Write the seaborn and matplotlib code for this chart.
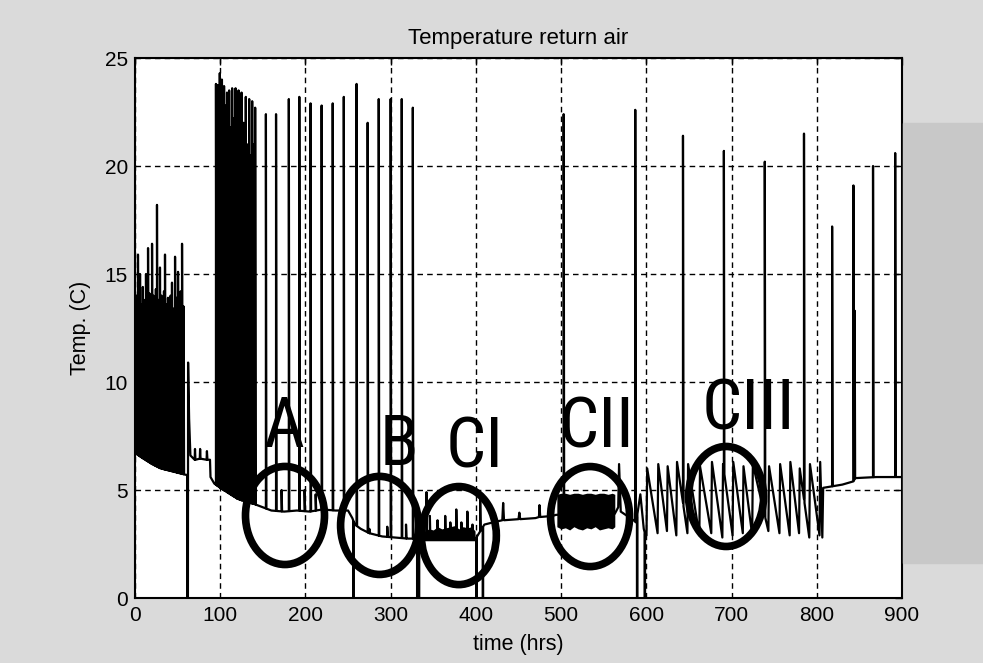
import numpy as np
import pandas as pd
import seaborn as sns
import matplotlib.pyplot as plt
from matplotlib.patches import Ellipse, Rectangle

# ---- slow return-air trace (hrs, deg C) ----
base_t = [0.0, 0.4, 10, 20, 30, 40, 50, 60, 61.2, 61.3, 62.1, 62.3, 63.5, 65,
          70.0, 70.4, 70.9, 76.0, 76.4, 76.9, 84.0, 84.4, 85.0, 88.0, 88.6, 93,
          100, 110, 120, 130, 140, 150, 160, 175, 190, 205, 220, 235, 250, 255,
          258, 265, 275, 290, 305, 320, 329, 335, 399, 410, 420, 431, 432, 433,
          450, 451, 452, 470, 474, 474.6, 475.5, 490, 494, 563, 567, 568, 570,
          585, 588, 593, 597, 599]
base_v = [13.8, 6.7, 6.45, 6.2, 6.0, 5.9, 5.8, 5.7, 5.7, 0.0, 0.0, 10.9, 8.3, 6.6,
          6.4, 6.9, 6.4, 6.45, 6.9, 6.45, 6.4, 6.8, 6.4, 6.4, 5.6, 5.3,
          5.1, 4.85, 4.6, 4.45, 4.35, 4.2, 4.05, 4.0, 4.05, 4.0, 4.1, 4.05, 4.05, 3.7,
          3.4, 3.2, 3.0, 2.85, 2.8, 2.75, 2.75, 2.7, 2.7, 3.4, 3.5, 3.6, 4.4, 3.6,
          3.65, 3.95, 3.65, 3.7, 3.75, 4.3, 3.75, 3.8, 3.85, 3.9, 4.2, 6.2, 4.0,
          3.6, 3.5, 4.8, 3.2, 2.9]

# defrost-cycle sawtooth (600-807 hrs): troughs just before each peak
saw_peak_t = [601, 614, 625, 636, 649, 663, 677, 690, 702, 714, 725, 744, 757,
              769, 780, 792, 804]
saw_peak_v = [6.0, 6.2, 6.1, 6.3, 6.2, 6.1, 6.3, 6.2, 6.3, 6.1, 6.2, 6.1, 6.2,
              6.3, 6.0, 6.2, 6.3]
saw_trough_v = [2.9, 3.0, 3.1, 2.9, 3.0, 2.9, 3.0, 2.8, 2.9, 3.0, 2.9, 3.1, 3.0,
                2.9, 3.0, 2.8, 2.9]

# trace after the last cycle
tail_t = [806.5, 807.5, 830, 843, 845, 870, 900]
tail_v = [2.8, 5.1, 5.25, 5.4, 5.55, 5.6, 5.6]

# dense start-up bursts
burst1_t = [1.5, 3.5, 5.0, 5.9, 7.5, 9.2, 11.0, 12.9, 14.2, 15.3, 17.0, 18.5,
            20.0, 21.5, 23.0, 24.5, 25.8, 27.5, 29.3, 31.0, 32.5, 34.0, 35.2,
            37.0, 38.7, 40.2, 41.8, 43.4, 45.0, 47.0, 48.7, 50.5, 52.0, 53.6,
            55.2, 57.0]
burst1_v = [14.0, 15.9, 14.2, 15.0, 13.6, 14.4, 13.8, 15.0, 13.9, 16.2, 14.1,
            13.5, 16.4, 14.0, 13.7, 14.3, 18.2, 13.8, 15.3, 14.0, 13.5, 14.2,
            15.9, 13.6, 13.9, 13.3, 14.0, 14.6, 13.4, 15.8, 13.9, 15.1, 13.6,
            14.2, 16.4, 13.5]
burst2_t = [95, 96, 97, 98.3, 99.5, 100.8, 102, 103.2, 104.5, 106, 108, 109,
            110.5, 112, 114, 116, 118, 119.8, 121.5, 123, 125, 127.5, 130, 132,
            134, 136, 137.5, 139.3, 141]
burst2_v = [23.8, 22.5, 23.75, 21.8, 24.3, 22.0, 24.0, 21.0, 23.7, 22.8, 23.4,
            20.5, 23.5, 21.8, 23.6, 22.2, 23.6, 20.8, 23.5, 21.5, 23.4, 22.0,
            23.2, 21.0, 23.1, 20.5, 23.0, 21.0, 22.7]

# isolated spikes
spike_t = [153.6, 165.5, 172, 180.5, 192.8, 199, 206, 212, 219, 232, 245, 260,
           273, 275, 286, 296, 300, 313, 318, 326, 342, 346, 355, 364, 370, 377,
           383, 390, 396, 405, 503, 587, 643, 691, 739, 785, 818, 843, 844.5,
           866, 892]
spike_v = [22.4, 22.4, 5.0, 23.1, 23.2, 5.0, 22.9, 4.8, 22.8, 22.9, 23.2, 23.8,
           22.0, 3.2, 23.1, 3.3, 23.1, 23.1, 3.4, 22.7, 4.9, 3.8, 3.6, 3.8, 3.5,
           4.1, 3.5, 4.0, 3.4, 4.7, 22.4, 22.6, 21.4, 20.7, 20.2, 21.5, 17.2,
           19.1, 13.3, 20.0, 20.6]

# power-off drops to zero
zero_t = [256, 331, 333, 400.5, 408, 589, 598]

# dense oscillation bands
ci_t = [336, 340, 345, 350, 355, 360, 365, 370, 375, 380, 385, 390, 395, 399]
ci_top = [3.0, 3.1, 3.2, 3.15, 3.3, 3.2, 3.25, 3.3, 3.35, 3.2, 3.3, 3.25, 3.3, 3.1]
ci_bot = 2.65
cii_t = [495, 500, 505, 510, 515, 520, 525, 530, 535, 540, 545, 550, 555, 560, 563]
cii_top = [4.8, 4.85, 4.85, 4.8, 4.85, 4.85, 4.8, 4.85, 4.85, 4.8, 4.85, 4.85, 4.8, 4.85, 4.8]
cii_bot = [3.3, 3.2, 3.25, 3.15, 3.3, 3.2, 3.15, 3.25, 3.2, 3.3, 3.15, 3.2, 3.25, 3.2, 3.3]

# marked operating periods
zones = ["A", "B", "CI", "CII", "CIII"]
zone_x = [176, 287, 380, 534, 693.6]
zone_y = [3.82, 3.36, 2.89, 3.77, 4.70]
zone_w = [92.7, 91.5, 88, 92.7, 88]
zone_h = [4.54, 4.54, 4.54, 4.63, 4.63]
label_x = [175, 310, 399, 542, 719.5]
label_y = [6.99, 6.16, 6.06, 6.99, 7.78]

# ---- assemble the plotted trace ----
saw_t, saw_v = [], []
for tp, vp, vt in zip(saw_peak_t, saw_peak_v, saw_trough_v):
    saw_t += [tp - 0.8, tp]
    saw_v += [vt, vp]
slow_t = np.array(base_t + saw_t + tail_t, dtype=float)
slow_v = np.array(base_v + saw_v + tail_v, dtype=float)
o = np.argsort(slow_t, kind="mergesort")
slow_t, slow_v = slow_t[o], slow_v[o]


def foot(t):
    return float(np.interp(t, slow_t, slow_v))


pts = list(zip(slow_t, slow_v))
for t, v in zip(burst1_t + burst2_t + spike_t, burst1_v + burst2_v + spike_v):
    pts += [(t - 0.02, foot(t - 0.02)), (t, v), (t + 0.6, foot(t + 0.6))]
for t in zero_t:
    pts += [(t - 0.02, foot(t - 0.02)), (t, 0.0), (t + 0.5, 0.0),
            (t + 0.52, foot(t + 0.52))]
df = pd.DataFrame(pts, columns=["time", "temp"]).sort_values("time", kind="mergesort")

# ---- figure ----
sns.set_style("white")
plt.rcParams["font.family"] = ["Liberation Sans", "DejaVu Sans"]
for key in ("text.color", "axes.labelcolor", "xtick.color", "ytick.color"):
    plt.rcParams[key] = "black"

fig = plt.figure(figsize=(9.83, 6.63), dpi=100, facecolor="#dadada")
# darker scanned margin on the right-hand side
fig.patches.append(Rectangle((903 / 983, 100 / 663), 80 / 983, 440 / 663,
                             transform=fig.transFigure, color="#c8c8c8", zorder=0))
ax = fig.add_axes([135 / 983, 65 / 663, 767 / 983, 540 / 663])
ax.set_facecolor("white")

ax.fill_between(ci_t, ci_bot, ci_top, color="black", lw=0, zorder=3)
ax.fill_between(cii_t, cii_bot, cii_top, color="black", lw=0, zorder=3)
sns.lineplot(data=df, x="time", y="temp", estimator=None, sort=False,
             color="black", lw=1.6, ax=ax, zorder=4)

narrow = ["Liberation Sans Narrow", "DejaVu Sans Condensed", "Roboto Condensed",
          "Liberation Sans"]
for name, cx, cy, w, h, lx, ly in zip(zones, zone_x, zone_y, zone_w, zone_h,
                                       label_x, label_y):
    ax.add_patch(Ellipse((cx, cy), w, h, fill=False, ec="black", lw=5.5, zorder=6))
    ax.text(lx, ly, name, ha="center", va="baseline", fontsize=51,
            family=narrow, fontstretch="condensed", color="black", zorder=6)

ax.set_xlim(0, 900)
ax.set_ylim(0, 25)
ax.set_xticks(range(0, 901, 100))
ax.set_yticks(range(0, 26, 5))
ax.grid(True, color="black", linestyle=(0, (4, 3)), lw=1.0)
ax.set_axisbelow(True)
for s in ax.spines.values():
    s.set_visible(True)
    s.set_color("black")
    s.set_linewidth(1.5)
ax.tick_params(direction="in", length=5, width=1, top=True, right=True,
               labelsize=15, colors="black")
ax.tick_params(axis="x", pad=6)
ax.tick_params(axis="y", pad=5)
ax.set_title("Temperature return air", fontsize=16, pad=10, color="black")
ax.set_xlabel("time (hrs)", fontsize=15.5, labelpad=6, color="black")
ax.set_ylabel("Temp. (C)", fontsize=15.5, labelpad=10, color="black")

fig.savefig("out.png", dpi=100, facecolor=fig.get_facecolor())
